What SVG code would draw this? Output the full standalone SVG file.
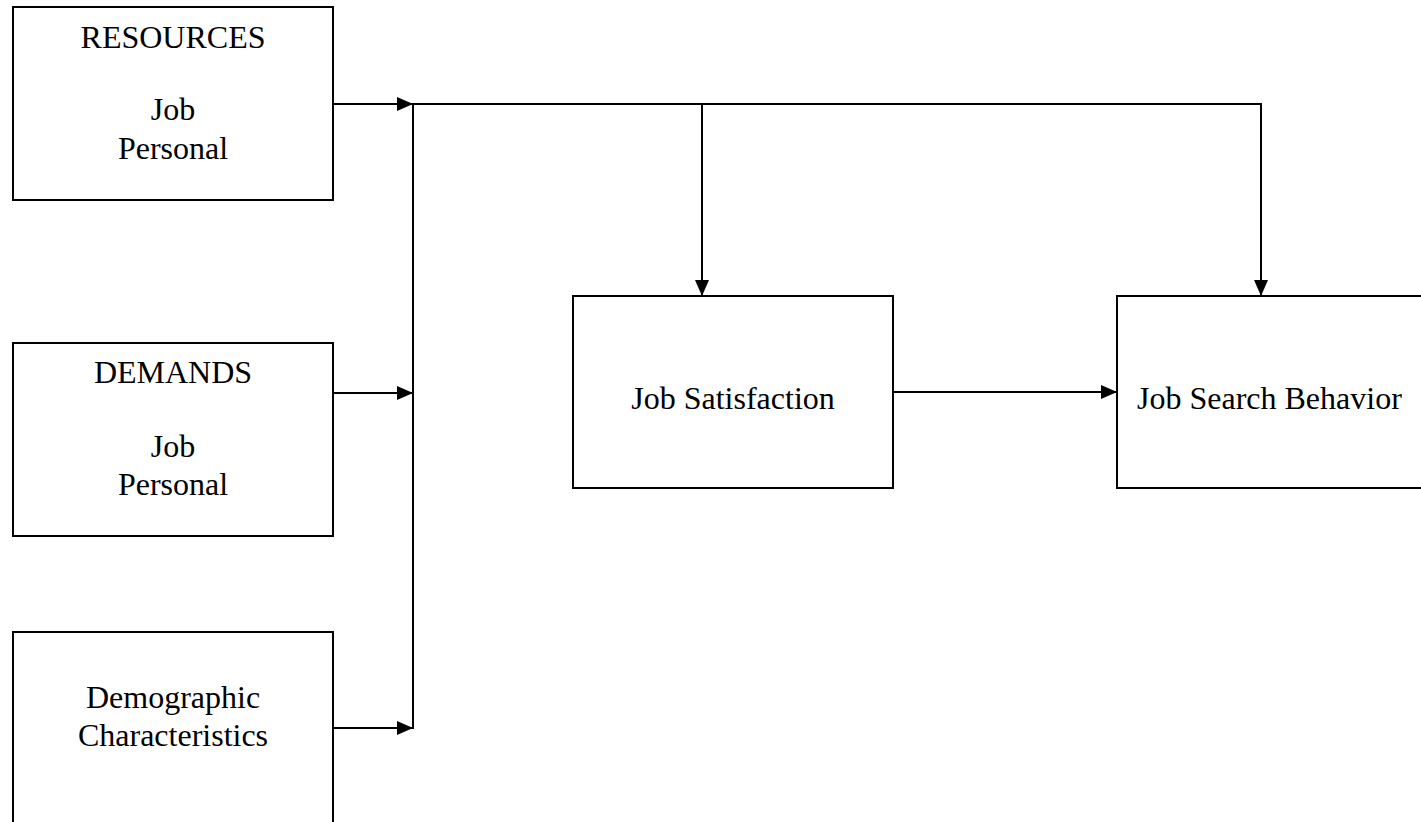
<svg xmlns="http://www.w3.org/2000/svg" width="1421" height="822" viewBox="0 0 1421 822">
<style>
.box{fill:#fff;stroke:#000;stroke-width:2}
.t{font-family:"Liberation Serif","Times New Roman",serif;font-size:32px;fill:#000}
.c{text-anchor:middle}
.ln{fill:none;stroke:#000;stroke-width:2}
</style>
<defs>
<marker id="ah" markerUnits="userSpaceOnUse" markerWidth="16" markerHeight="14" refX="16" refY="7" orient="auto">
<path d="M0,0 L16,7 L0,14 z" fill="#000"/>
</marker>
</defs>
<rect width="1421" height="822" fill="#fff"/>
<g id="resources">
<rect class="box" x="13" y="7" width="320" height="193"/>
<text class="t c" x="173" y="48">RESOURCES</text>
<text class="t c" x="173" y="120">Job</text>
<text class="t c" x="173" y="159">Personal</text>
</g>
<g id="demands">
<rect class="box" x="13" y="343" width="320" height="193"/>
<text class="t c" x="173" y="383">DEMANDS</text>
<text class="t c" x="173" y="457">Job</text>
<text class="t c" x="173" y="495">Personal</text>
</g>
<g id="demographic">
<rect class="box" x="13" y="632" width="320" height="200"/>
<text class="t c" x="173" y="708">Demographic</text>
<text class="t c" x="173" y="746">Characteristics</text>
</g>
<g id="satisfaction">
<rect class="box" x="573" y="296" width="320" height="192"/>
<text class="t c" x="733" y="409">Job Satisfaction</text>
</g>
<g id="search">
<rect class="box" x="1117" y="296" width="320" height="192"/>
<text class="t" x="1137" y="409">Job Search Behavior</text>
</g>
<g id="connectors">
<line class="ln" x1="333" y1="104" x2="413" y2="104" marker-end="url(#ah)"/>
<line class="ln" x1="333" y1="393" x2="413" y2="393" marker-end="url(#ah)"/>
<line class="ln" x1="333" y1="728" x2="413" y2="728" marker-end="url(#ah)"/>
<line class="ln" x1="413" y1="103" x2="413" y2="729"/>
<line class="ln" x1="412" y1="104" x2="1262" y2="104"/>
<line class="ln" x1="702" y1="103" x2="702" y2="296" marker-end="url(#ah)"/>
<line class="ln" x1="1261" y1="103" x2="1261" y2="296" marker-end="url(#ah)"/>
<line class="ln" x1="893" y1="392" x2="1117" y2="392" marker-end="url(#ah)"/>
</g>
</svg>
